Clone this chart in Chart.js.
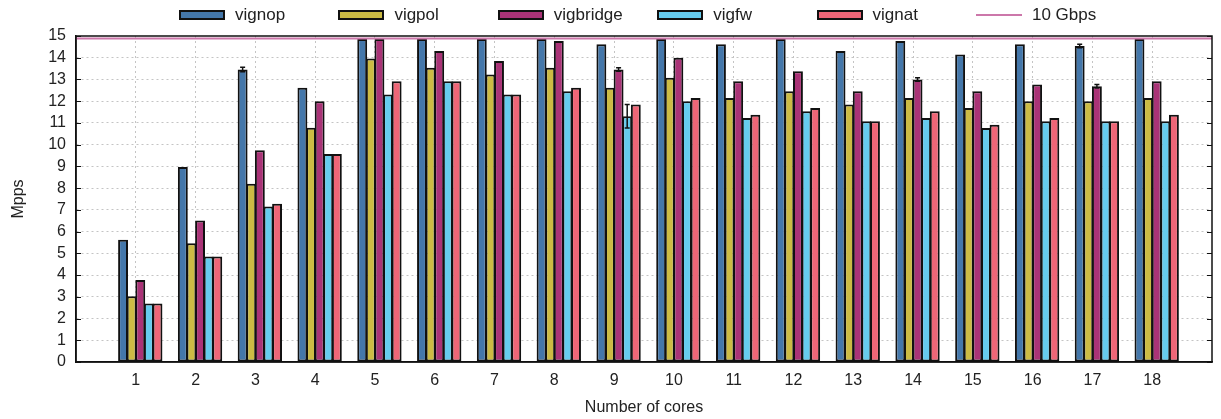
<!DOCTYPE html>
<html>
<head>
<meta charset="utf-8">
<script src="https://cdn.jsdelivr.net/npm/chart.js@4/dist/chart.umd.min.js"></script>
<style>
  body { margin: 0; background: #fff; }
  #wrap { position: relative; width: 1221px; height: 419px; }
  #legend {
    position: absolute; left: 179px; top: 0;
    display: flex;
    font: 17px 'Liberation Sans', Arial, sans-serif; color: #222;
  }
  .item { width: 159.4px; height: 29px; display: flex; align-items: center; }
  .swatch { width: 42px; height: 6px; border: 2px solid #111; margin-right: 10px; }
  .line { width: 46px; height: 2px; margin-right: 10px; }
</style>
</head>
<body>
<div id="wrap">
  <canvas id="chart" width="1221" height="419"></canvas>
  <div id="legend"></div>
</div>
<script>
const cores = [1, 2, 3, 4, 5, 6, 7, 8, 9, 10, 11, 12, 13, 14, 15, 16, 17, 18]
const vignop = [5.62, 8.97, 13.46, 12.62, 14.86, 14.86, 14.86, 14.86, 14.62, 14.86, 14.62, 14.86, 14.31, 14.77, 14.15, 14.62, 14.54, 14.86]
const vigpol = [3.03, 5.46, 8.2, 10.78, 13.97, 13.54, 13.23, 13.54, 12.62, 13.08, 12.15, 12.46, 11.85, 12.15, 11.69, 12.0, 12.0, 12.15]
const vigbridge = [3.77, 6.51, 9.74, 12.0, 14.86, 14.31, 13.85, 14.77, 13.46, 14.0, 12.92, 13.38, 12.46, 13.0, 12.46, 12.77, 12.69, 12.92]
const vigfw = [2.69, 4.85, 7.15, 9.57, 12.31, 12.92, 12.31, 12.46, 11.31, 12.0, 11.23, 11.54, 11.08, 11.23, 10.77, 11.08, 11.08, 11.08]
const vignat = [2.69, 4.85, 7.28, 9.57, 12.92, 12.92, 12.31, 12.62, 11.85, 12.15, 11.38, 11.69, 11.08, 11.54, 10.92, 11.23, 11.08, 11.38]
// error bars (0 = none)
const vignopErr = [0, 0, 0.1, 0, 0, 0, 0, 0, 0, 0, 0, 0, 0, 0, 0, 0, 0.08, 0]
const vigbridgeErr = [0, 0, 0, 0, 0, 0, 0, 0, 0.08, 0, 0, 0, 0, 0.08, 0, 0, 0.08, 0]
const vigfwErr = [0, 0, 0, 0, 0, 0, 0, 0, 0.54, 0, 0, 0, 0, 0, 0, 0, 0, 0]
const lineRate = 14.88
const yTicks = [0, 1, 2, 3, 4, 5, 6, 7, 8, 9, 10, 11, 12, 13, 14, 15]

const FONT = "'Liberation Sans', Arial, sans-serif"
Chart.defaults.font.family = FONT
Chart.defaults.font.size = 16
Chart.defaults.color = '#222'

// gnuplot draws the cluster a bit right of the tick
const groupShift = 0.075
const toPoints = vals => cores.map((c, i) => ({ x: c + groupShift, y: vals[i] }))

const barSet = (label, vals, color, err) => ({
  type: 'bar',
  label: label,
  data: toPoints(vals),
  backgroundColor: color,
  borderColor: '#111',
  borderWidth: 2,
  borderSkipped: false,
  barPercentage: 1.15,
  categoryPercentage: 0.72,
  errors: err
})

const datasets = [
  barSet('vignop', vignop, '#4477aa', vignopErr),
  barSet('vigpol', vigpol, '#ccbb44', null),
  barSet('vigbridge', vigbridge, '#aa3377', vigbridgeErr),
  barSet('vigfw', vigfw, '#66ccee', vigfwErr),
  barSet('vignat', vignat, '#ee6677', null),
  {
    type: 'line',
    label: '10 Gbps',
    data: [{ x: 0, y: lineRate }, { x: 19, y: lineRate }],
    borderColor: '#cc77aa',
    borderWidth: 2,
    pointRadius: 0,
    order: -1
  }
]

const errorBars = {
  id: 'errorBars',
  afterDatasetsDraw(chart) {
    const ctx = chart.ctx
    const y = chart.scales.y
    ctx.save()
    ctx.strokeStyle = '#111'
    ctx.lineWidth = 1.5
    chart.data.datasets.forEach((ds, di) => {
      if (!ds.errors) return
      const meta = chart.getDatasetMeta(di)
      ds.errors.forEach((e, i) => {
        if (!e) return
        const bar = meta.data[i]
        const v = ds.data[i].y
        const y1 = y.getPixelForValue(v - e)
        const y2 = y.getPixelForValue(v + e)
        ctx.beginPath()
        ctx.moveTo(bar.x, y1); ctx.lineTo(bar.x, y2)
        ctx.moveTo(bar.x - 2.5, y1); ctx.lineTo(bar.x + 2.5, y1)
        ctx.moveTo(bar.x - 2.5, y2); ctx.lineTo(bar.x + 2.5, y2)
        ctx.stroke()
      })
    })
    ctx.restore()
  }
}

const frame = {
  id: 'frame',
  afterDraw(chart) {
    const { ctx, chartArea: a } = chart
    const y = chart.scales.y
    ctx.save()
    ctx.strokeStyle = '#111'
    ctx.lineWidth = 1.5
    ctx.strokeRect(a.left, a.top, a.right - a.left, a.bottom - a.top)
    ctx.lineWidth = 1
    yTicks.forEach(t => {
      const py = Math.round(y.getPixelForValue(t)) + 0.5
      ctx.beginPath()
      ctx.moveTo(a.left, py); ctx.lineTo(a.left + 5, py)
      ctx.moveTo(a.right, py); ctx.lineTo(a.right - 5, py)
      ctx.stroke()
    })
    ctx.restore()
  }
}

new Chart(document.getElementById('chart').getContext('2d'), {
  data: { datasets: datasets },
  plugins: [errorBars, frame],
  options: {
    responsive: false,
    animation: false,
    layout: { padding: { top: 36, right: 3, left: 0, bottom: 0 } },
    plugins: { legend: { display: false }, tooltip: { enabled: false } },
    scales: {
      x: {
        type: 'linear',
        min: 0,
        max: 19,
        offset: false,
        afterFit: s => { s.height = 57 },
        ticks: {
          stepSize: 1,
          autoSkip: false,
          maxRotation: 0,
          padding: 9,
          callback: v => (v >= 1 && v <= 18) ? v : ''
        },
        grid: {
          offset: false,
          drawTicks: false,
          color: c => (c.tick && c.tick.value >= 1 && c.tick.value <= 18) ? '#c4c4c4' : 'rgba(0,0,0,0)'
        },
        border: { display: true, color: '#111', width: 1.5, dash: [2, 3] },
        title: { display: true, text: 'Number of cores', padding: { top: 0, bottom: 2 } }
      },
      y: {
        min: 0,
        max: 15,
        afterFit: s => { s.width = 76 },
        afterBuildTicks: s => { s.ticks = yTicks.map(v => ({ value: v })) },
        ticks: { padding: 10, autoSkip: false, stepSize: 1 },
        grid: {
          drawTicks: false,
          color: c => (c.tick && c.tick.value > 0 && c.tick.value < 15) ? '#c4c4c4' : 'rgba(0,0,0,0)'
        },
        border: { display: true, color: '#111', width: 1.5, dash: [2, 3] },
        title: { display: true, text: 'Mpps', padding: { top: 9, bottom: 0 } }
      }
    }
  }
})

// legend laid out like gnuplot's key: fixed-width columns
const legend = document.getElementById('legend')
datasets.forEach(ds => {
  const item = document.createElement('div')
  item.className = 'item'
  const sw = document.createElement('span')
  if (ds.type === 'line') {
    sw.className = 'line'
    sw.style.background = ds.borderColor
  } else {
    sw.className = 'swatch'
    sw.style.background = ds.backgroundColor
  }
  const tx = document.createElement('span')
  tx.textContent = ds.label
  item.appendChild(sw)
  item.appendChild(tx)
  legend.appendChild(item)
})
</script>
</body>
</html>
